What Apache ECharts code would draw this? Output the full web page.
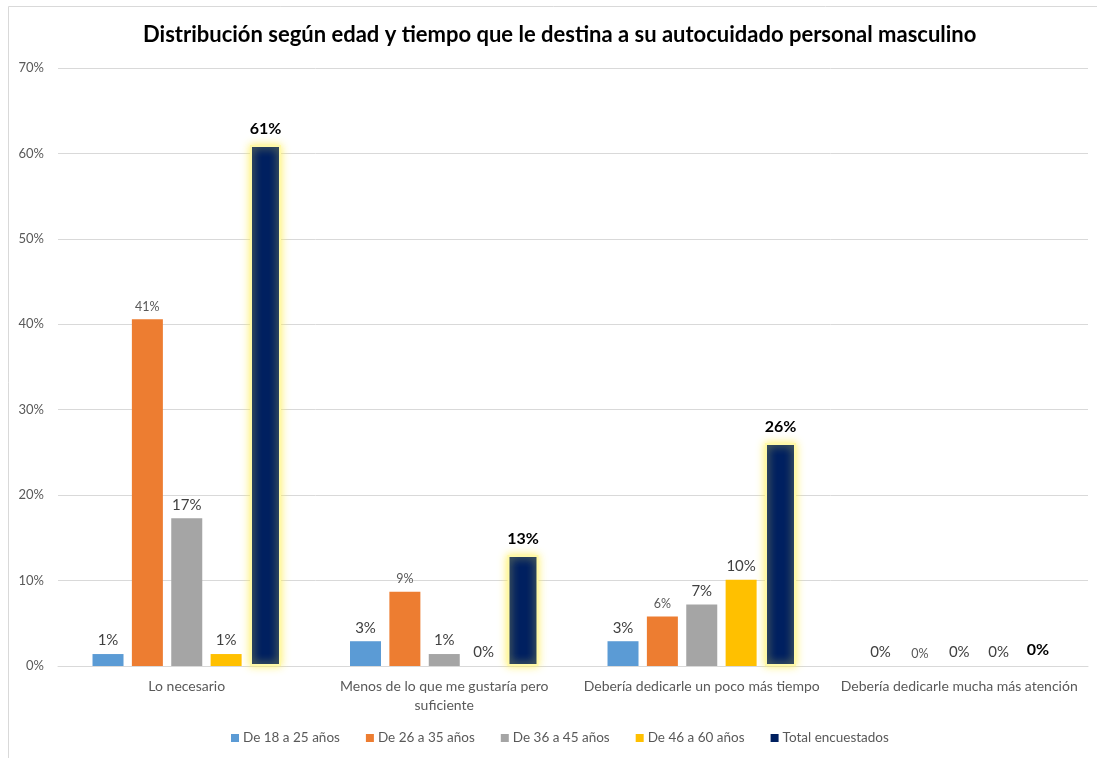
<!DOCTYPE html>
<html>
<head>
<meta charset="utf-8">
<script src="https://cdn.jsdelivr.net/npm/echarts@6/dist/echarts.min.js"></script>
<style>
  html, body { margin: 0; padding: 0; background: #fff; }
  #chart { width: 1097px; height: 758px; }
</style>
</head>
<body>
<div id="chart"></div>
<script>
// Respuestas por categoría de tiempo dedicado al autocuidado
const categories = [
  'Lo necesario',
  'Menos de lo que me gustaría pero\nsuficiente',
  'Debería dedicarle un poco más tiempo',
  'Debería dedicarle mucha más atención'
];
const seriesNames = ['De 18 a 25 años', 'De 26 a 35 años', 'De 36 a 45 años', 'De 46 a 60 años', 'Total encuestados'];
const edad18a25 = [1.4, 2.9, 2.9, 0];
const edad26a35 = [40.6, 8.7, 5.8, 0];
const edad36a45 = [17.3, 1.4, 7.2, 0];
const edad46a60 = [1.4, 0, 10.1, 0];
const totalEncuestados = [61.0, 13.0, 26.1, 0];
const yTicks = [0, 10, 20, 30, 40, 50, 60, 70];

const colors = ['#5B9BD5', '#ED7D31', '#A5A5A5', '#FFC000', '#002060'];
const FONT = 'Lato, "Open Sans", sans-serif';

const pct = p => Math.round(p.value) + '%';

function makeSeries(name, data, color, label) {
  return {
    name: name,
    type: 'bar',
    data: data,
    barWidth: 31,
    barGap: '27%',
    itemStyle: { color: color },
    label: Object.assign({ show: true, position: 'top', distance: 6, formatter: pct, fontFamily: FONT }, label)
  };
}

const bigLabel = { fontSize: 15, color: '#404040' };
const smallLabel = { fontSize: 12.5, color: '#595959' };

// total bars carry a soft yellow glow (only when the bar has height)
const glowStyle = { color: colors[4], borderColor: '#fff9a8', borderWidth: 2, shadowColor: 'rgba(255,240,80,0.9)', shadowBlur: 8 };
const totalData = totalEncuestados.map(v => v > 0
  ? { value: v, itemStyle: glowStyle }
  : { value: v, itemStyle: { color: colors[4], borderWidth: 0, shadowBlur: 0 } });

const totalSeries = makeSeries(seriesNames[4], totalData, colors[4],
  { fontSize: 16, fontWeight: 'bold', color: '#000000', distance: 8 });

const chart = echarts.init(document.getElementById('chart'));
chart.setOption({
  animation: false,
  backgroundColor: '#ffffff',
  color: colors,
  title: {
    text: 'Distribución según edad y tiempo que le destina a su autocuidado personal masculino',
    left: 138,
    top: 19,
    textStyle: { fontFamily: FONT, fontWeight: 'bold', fontSize: 22, color: '#000000' }
  },
  graphic: [{
    type: 'rect',
    shape: { x: 8.5, y: 6.5, width: 1100, height: 800 },
    style: { fill: 'none', stroke: '#d9d9d9', lineWidth: 1 },
    silent: true
  }],
  legend: {
    bottom: 8,
    left: 226,
    itemWidth: 8,
    itemHeight: 8,
    itemGap: 26,
    icon: 'rect',
    textStyle: { fontFamily: FONT, fontSize: 13.5, color: '#595959', padding: [0, 0, 0, -1] },
    data: seriesNames
  },
  grid: { left: 58, right: 9, top: 68, bottom: 92, containLabel: false },
  xAxis: {
    type: 'category',
    data: categories,
    axisLine: { lineStyle: { color: '#d9d9d9' } },
    axisTick: { show: false },
    axisLabel: { fontFamily: FONT, fontSize: 14, color: '#595959', margin: 11, lineHeight: 19, interval: 0 }
  },
  yAxis: {
    type: 'value',
    min: yTicks[0],
    max: yTicks[yTicks.length - 1],
    interval: 10,
    axisLine: { show: false },
    axisTick: { show: false },
    splitLine: { lineStyle: { color: '#d9d9d9' } },
    axisLabel: { fontFamily: FONT, fontSize: 13, color: '#595959', margin: 14, formatter: v => v + '%' }
  },
  series: [
    makeSeries(seriesNames[0], edad18a25, colors[0], bigLabel),
    makeSeries(seriesNames[1], edad26a35, colors[1], smallLabel),
    makeSeries(seriesNames[2], edad36a45, colors[2], bigLabel),
    makeSeries(seriesNames[3], edad46a60, colors[3], bigLabel),
    totalSeries
  ]
});
</script>
</body>
</html>
